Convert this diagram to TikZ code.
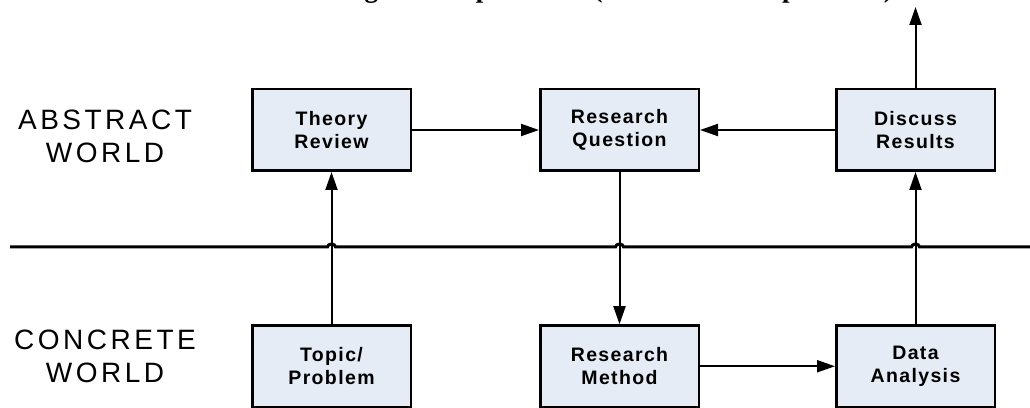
\documentclass[tikz,border=0pt]{standalone}
\usepackage{fontspec}
\setmainfont{Liberation Sans}
\newfontfamily\boxfont[LetterSpace=7]{Liberation Sans}
\newfontfamily\labfont[LetterSpace=12.5]{Liberation Sans}
\newfontfamily\topfont{Liberation Serif}
\usetikzlibrary{arrows.meta}
\definecolor{boxfill}{RGB}{230,236,246}
\begin{document}
\begin{tikzpicture}[x=1pt,y=1pt,
  box/.style={draw=black, line width=2.5pt, fill=boxfill, minimum width=158.5pt,
    minimum height=81.5pt, inner sep=0pt, align=center,
    font=\boxfont\bfseries\fontsize{19.5}{23}\selectfont},
  arr/.style={line width=2pt, -{Triangle[length=18pt,width=12pt]}},
  lab/.style={align=center, inner sep=0pt, font=\labfont\fontsize{28}{33}\selectfont},
  divider/.style={line width=3pt}]
\useasboundingbox (0,0) rectangle (1030,407);
% title (cropped at top edge)
\node[anchor=base west, inner sep=0pt, font=\topfont\bfseries\fontsize{27}{30}\selectfont]
  (title) at (288,409.5) {Findings and implications (theoretical and practical)};
% side labels
\node[lab] (abs) at (105,270.5) {ABSTRACT\\WORLD};
\node[lab] (con) at (105,50.5) {CONCRETE\\WORLD};
% divider with jump-overs
\draw[divider] (10,160) -- (327.5,160) arc[start angle=180,end angle=0,x radius=4,y radius=3]
  -- (615.5,160) arc[start angle=180,end angle=0,x radius=4,y radius=3]
  -- (911.5,160) arc[start angle=180,end angle=0,x radius=4,y radius=3]
  -- (1030,160);
% boxes
\node[box] (TR) at (331.5,277) {Theory\\Review};
\node[box] (RQ) at (619.5,277) {Research\\Question};
\node[box] (DR) at (915.5,277) {Discuss\\Results};
\node[box] (TP) at (331.5,40.75) {Topic/\\Problem};
\node[box] (RM) at (619.5,40.75) {Research\\Method};
\node[box] (DA) at (915.5,40.75) {Data\\Analysis};
\coordinate (topend) at (915.5,400);
% connectors
\draw[arr] (TP.north) -- (TR.south);
\draw[arr] (TR.east) -- (RQ.west);
\draw[arr] (DR.west) -- (RQ.east);
\draw[arr] (RQ.south) -- (RM.north);
\draw[arr] (RM.east) -- (DA.west);
\draw[arr] (DA.north) -- (DR.south);
\draw[arr] (DR.north) -- (topend);
\end{tikzpicture}
\end{document}
